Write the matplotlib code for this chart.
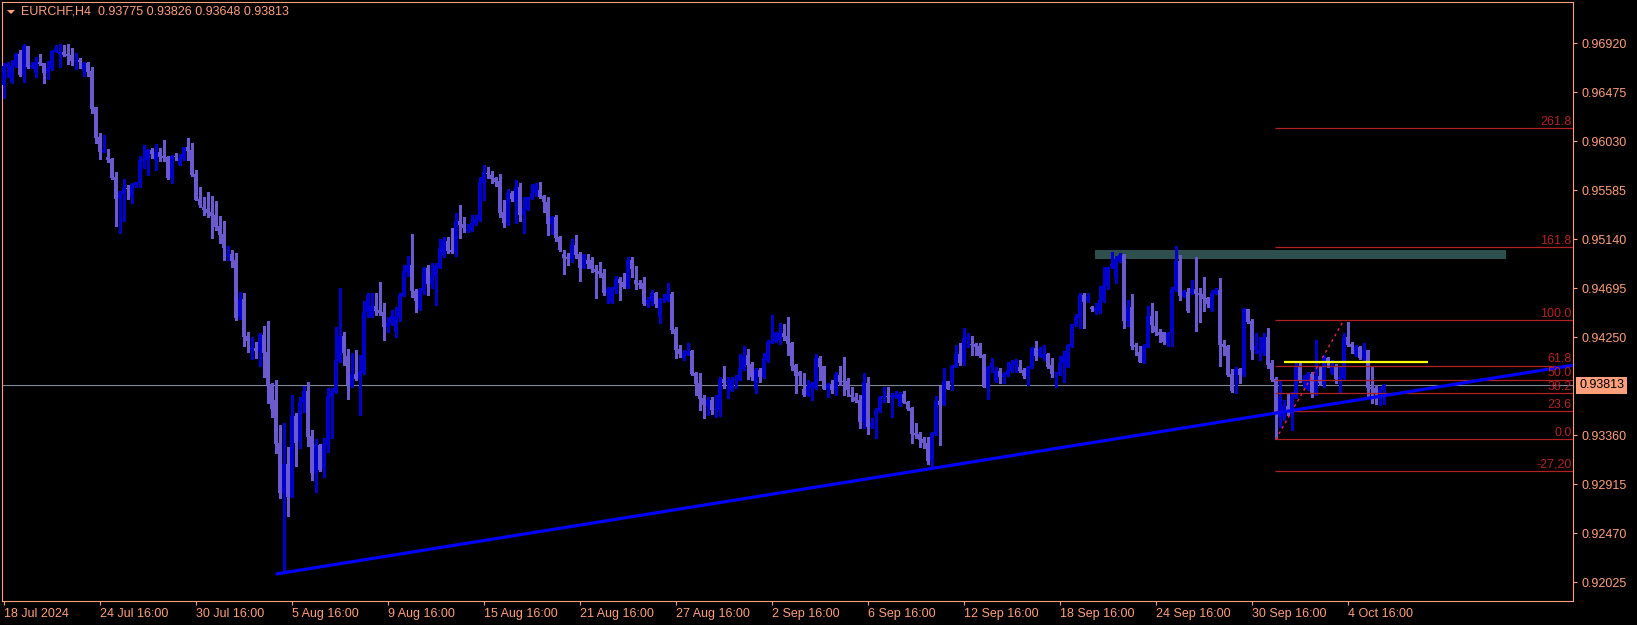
import matplotlib
matplotlib.use("Agg")
import matplotlib.pyplot as plt
from matplotlib.patches import Rectangle, Polygon
from matplotlib import transforms

# ---------------- data (EURCHF, H4) ----------------
symbol_title = "EURCHF,H4  0.93775 0.93826 0.93648 0.93813"

opens = [
.96541,.96707,.96571,.96713,.96822,.96631,.96895,.96707,.96647,.96752,
.96737,.96647,.96686,.96843,.96825,.96837,.96822,.96813,.96762,.96768,
.96668,.96740,.96668,.96338,.96068,.95935,.95890,.95869,.95705,.95505,
.95554,.95605,.95527,.95632,.95654,.95850,.95860,.95950,.95860,.95929,
.95896,.95890,.95699,.95896,.95814,.95869,.95978,.95950,.95732,.95505,
.95436,.95415,.95387,.95360,.95260,.95187,.94991,.95006,.94951,.94437,
.94594,.94261,.94134,.94155,.94125,.94270,.94116,.93825,.93680,.93286,
.92839,.93099,.92802,.93535,.93308,.93656,.93765,.93353,.93014,.93271,
.93053,.93271,.93710,.93756,.94037,.94261,.94080,.93807,.93916,.93871,
.93928,.94482,.94437,.94534,.94497,.94479,.94346,.94382,.94300,.94437,
.94627,.94845,.94903,.94670,.94506,.94673,.94882,.94733,.94806,.94882,
.94997,.95124,.95045,.95027,.95305,.95278,.95215,.95224,.95278,.95315,
.95648,.95741,.95723,.95696,.95669,.95390,.95284,.95557,.95481,.95614,
.95360,.95414,.95511,.95557,.95587,.95533,.95478,.95278,.95339,.95163,
.95003,.94982,.94960,.95084,.95006,.94882,.94951,.94951,.94870,.94851,
.94833,.94649,.94573,.94688,.94779,.94749,.94703,.94951,.94770,.94739,
.94739,.94552,.94582,.94649,.94437,.94588,.94588,.94643,.94325,.94143,
.94064,.94101,.94125,.93922,.93832,.93695,.93629,.93680,.93592,.93589,
.93871,.93847,.93771,.93862,.93862,.93962,.94089,.94007,.93780,.93953,
.93886,.94043,.94201,.94210,.94225,.94292,.94261,.94195,.93998,.93932,
.93780,.93726,.93786,.93786,.94059,.93989,.93780,.93826,.93771,.93907,
.93856,.93853,.93726,.93711,.93680,.93484,.93832,.93438,.93535,.93580,
.93704,.93711,.93704,.93704,.93629,.93735,.93662,.93611,.93384,.93372,
.93323,.93287,.93126,.93372,.93671,.93635,.93853,.93847,.93983,.94098,
.94013,.94237,.94192,.94192,.94171,.94089,.93801,.93977,.93853,.93944,
.93886,.93907,.93947,.93998,.93977,.93953,.93898,.93977,.94150,.94080,
.94074,.94098,.93998,.93923,.93917,.94013,.93983,.94171,.94362,.94428,
.94634,.94579,.94522,.94492,.94492,.94582,.94719,.94885,.94791,.94943,
.94997,.94401,.94522,.94180,.94113,.94029,.94165,.94446,.94355,.94295,
.94295,.94201,.94286,.94679,.94946,.94625,.94664,.94649,.94685,.94655,
.94643,.94604,.94498,.94643,.94679,.94189,.94171,.93917,.93907,.93959,
.93907,.94504,.94398,.94134,.94104,.94104,.94250,.94013,.93868,.93523,
.93529,.93626,.93553,.93711,.93989,.93847,.93780,.93917,.93741,.93898,
.93826,.94059,.93923,.93992,.93868,.93877,.94250,.94189,.94089,.94165,
.94059,.94134,.93795,.93786,.93741,.93775]

highs = [
.96737,.96746,.96768,.96828,.96858,.96913,.96898,.96752,.96798,.96822,
.96743,.96758,.96858,.96904,.96913,.96907,.96913,.96874,.96828,.96783,
.96746,.96749,.96707,.96341,.96102,.96086,.95959,.95881,.95747,.95578,
.95687,.95636,.95648,.95663,.95899,.95996,.95959,.95965,.96005,.95965,
.96041,.95899,.95905,.95926,.95914,.95981,.96059,.96011,.95769,.95611,
.95527,.95566,.95533,.95487,.95354,.95306,.95078,.95042,.95012,.94664,
.94655,.94300,.94249,.94210,.94285,.94352,.94397,.93837,.93862,.93453,
.93468,.93256,.93725,.93565,.93710,.93807,.93846,.93407,.93323,.93280,
.93332,.93792,.93792,.94346,.94700,.94300,.94140,.94104,.94134,.94089,
.94582,.94649,.94649,.94649,.94749,.94558,.94437,.94497,.94527,.94649,
.94906,.94988,.95187,.94688,.94694,.94891,.94906,.94921,.94921,.95142,
.95163,.95163,.95245,.95375,.95451,.95339,.95278,.95357,.95357,.95702,
.95814,.95799,.95760,.95708,.95732,.95496,.95593,.95578,.95678,.95648,
.95526,.95526,.95638,.95648,.95657,.95542,.95520,.95351,.95360,.95169,
.95042,.95012,.95139,.95178,.95021,.95003,.95006,.94982,.94906,.94933,
.94867,.94709,.94709,.94806,.94800,.94830,.94976,.94982,.94897,.94770,
.94794,.94618,.94679,.94664,.94603,.94643,.94739,.94664,.94340,.94179,
.94134,.94195,.94134,.93938,.93922,.93726,.93710,.93710,.93726,.93892,
.93989,.93892,.93886,.93907,.94098,.94171,.94143,.94028,.93968,.93968,
.94104,.94225,.94452,.94295,.94376,.94370,.94437,.94210,.94004,.93947,
.93922,.93862,.93847,.94098,.94080,.93989,.93838,.93862,.93938,.93989,
.94068,.93877,.93795,.93747,.93726,.93922,.93886,.93514,.93611,.93717,
.93801,.93795,.93741,.93762,.93750,.93759,.93674,.93620,.93474,.93393,
.93347,.93347,.93393,.93720,.93807,.93968,.93853,.93998,.94180,.94201,
.94337,.94286,.94261,.94201,.94195,.94098,.93989,.94059,.93983,.93968,
.93938,.94028,.94043,.94050,.94043,.93968,.93989,.94165,.94216,.94165,
.94180,.94110,.94059,.93938,.94080,.94125,.94186,.94371,.94458,.94655,
.94649,.94649,.94534,.94564,.94716,.94885,.94891,.95027,.94988,.95012,
.95003,.94589,.94643,.94201,.94171,.94189,.94534,.94558,.94489,.94322,
.94301,.94295,.94710,.95079,.94997,.94679,.94694,.94770,.94982,.94694,
.94800,.94619,.94679,.94694,.94785,.94225,.94180,.93959,.93977,.93968,
.94513,.94504,.94413,.94286,.94250,.94286,.94331,.94044,.93892,.93862,
.93680,.93747,.93756,.94013,.94013,.93907,.93938,.93938,.94225,.93983,
.94089,.94074,.94044,.94007,.93983,.94286,.94390,.94210,.94180,.94171,
.94201,.94134,.93983,.93817,.93801,.93826]

lows = [
.96419,.96616,.96556,.96701,.96622,.96571,.96692,.96698,.96616,.96725,
.96556,.96595,.96677,.96837,.96707,.96807,.96731,.96722,.96683,.96692,
.96625,.96625,.96289,.96017,.95872,.95932,.95844,.95687,.95260,.95200,
.95306,.95505,.95469,.95617,.95617,.95790,.95723,.95875,.95769,.95850,
.95850,.95687,.95651,.95860,.95814,.95860,.95860,.95717,.95496,.95436,
.95357,.95339,.95154,.95224,.95103,.94951,.94951,.94885,.94406,.94413,
.94170,.94120,.94049,.94058,.93992,.93892,.93656,.93529,.93202,.92793,
.92121,.92627,.92795,.93084,.93241,.93574,.93262,.92953,.92848,.93038,
.92984,.93211,.93332,.93741,.94028,.93998,.93686,.93800,.93862,.93544,
.93916,.94437,.94430,.94452,.94452,.94225,.94300,.94361,.94255,.94397,
.94627,.94806,.94618,.94482,.94500,.94640,.94633,.94694,.94543,.94876,
.94982,.95012,.95012,.94988,.95154,.95209,.95203,.95218,.95270,.95308,
.95496,.95693,.95654,.95623,.95339,.95254,.95269,.95487,.95284,.95308,
.95193,.95405,.95502,.95533,.95511,.95390,.95178,.95184,.95127,.95033,
.94824,.94906,.94936,.94966,.94764,.94876,.94876,.94845,.94609,.94800,
.94633,.94558,.94558,.94649,.94588,.94694,.94694,.94800,.94685,.94694,
.94543,.94521,.94543,.94521,.94382,.94573,.94582,.94291,.94058,.94067,
.94043,.94089,.93910,.93726,.93589,.93520,.93544,.93553,.93529,.93535,
.93786,.93701,.93765,.93786,.93862,.93953,.93871,.93862,.93741,.93847,
.93877,.94028,.94195,.94210,.94189,.94225,.94089,.93953,.93741,.93826,
.93720,.93720,.93680,.93780,.93862,.93780,.93710,.93741,.93726,.93817,
.93726,.93717,.93674,.93659,.93423,.93423,.93372,.93423,.93332,.93574,
.93665,.93665,.93523,.93695,.93626,.93650,.93589,.93293,.93332,.93257,
.93241,.93099,.93069,.93362,.93272,.93635,.93777,.93771,.93977,.93998,
.93998,.94165,.94089,.94089,.94074,.93795,.93689,.93938,.93847,.93832,
.93832,.93901,.93938,.93938,.93938,.93883,.93817,.93968,.94043,.94074,
.94043,.93968,.93892,.93801,.93907,.93847,.93977,.94165,.94352,.94337,
.94337,.94573,.94492,.94461,.94474,.94573,.94685,.94876,.94746,.94937,
.94331,.94352,.94144,.94089,.94023,.94013,.94159,.94301,.94271,.94210,
.94189,.94171,.94171,.94673,.94589,.94619,.94483,.94643,.94310,.94392,
.94492,.94528,.94492,.94643,.93989,.94089,.93898,.93750,.93747,.93832,
.93898,.94377,.94053,.94110,.94044,.94089,.93968,.93853,.93323,.93438,
.93498,.93544,.93408,.93696,.93847,.93801,.93771,.93711,.93726,.93817,
.93801,.93983,.93917,.93832,.93756,.93868,.94171,.94104,.94083,.94050,
.94044,.93711,.93650,.93644,.93635,.93648]

closes = [
.96713,.96731,.96713,.96819,.96631,.96895,.96701,.96722,.96752,.96731,
.96653,.96692,.96849,.96874,.96837,.96813,.96807,.96762,.96768,.96749,
.96740,.96659,.96323,.96062,.95935,.95950,.95862,.95696,.95505,.95557,
.95602,.95596,.95642,.95657,.95860,.95866,.95950,.95914,.95929,.95884,
.95881,.95693,.95896,.95887,.95878,.95974,.95944,.95723,.95496,.95448,
.95405,.95381,.95351,.95254,.95178,.95063,.95006,.94945,.94428,.94594,
.94255,.94219,.94149,.94128,.94273,.94110,.93816,.93598,.93280,.92839,
.93099,.92802,.93535,.93292,.93665,.93765,.93347,.93014,.93271,.93044,
.93280,.93716,.93765,.94043,.94261,.94110,.93816,.93916,.93871,.93943,
.94482,.94633,.94534,.94491,.94473,.94346,.94388,.94443,.94443,.94633,
.94851,.94903,.94670,.94582,.94679,.94882,.94733,.94815,.94897,.95060,
.95133,.95033,.95027,.95305,.95269,.95239,.95233,.95284,.95321,.95660,
.95750,.95732,.95687,.95660,.95381,.95290,.95557,.95502,.95614,.95360,
.95420,.95520,.95563,.95632,.95526,.95481,.95278,.95339,.95154,.95042,
.94973,.94963,.95084,.94997,.94882,.94994,.94915,.94867,.94845,.94824,
.94655,.94688,.94700,.94779,.94745,.94709,.94951,.94873,.94733,.94724,
.94552,.94588,.94649,.94552,.94594,.94597,.94643,.94316,.94134,.94098,
.94104,.94125,.93916,.93826,.93689,.93635,.93680,.93589,.93599,.93871,
.93838,.93853,.93862,.93871,.93968,.94083,.93998,.93886,.93953,.93886,
.94059,.94210,.94216,.94286,.94286,.94255,.94189,.93989,.93898,.93901,
.93726,.93807,.93823,.94065,.93983,.93780,.93826,.93771,.93916,.93847,
.93844,.93771,.93711,.93674,.93484,.93841,.93438,.93468,.93589,.93704,
.93711,.93704,.93723,.93726,.93732,.93656,.93599,.93372,.93362,.93317,
.93287,.93126,.93378,.93671,.93635,.93853,.93777,.93989,.94098,.94013,
.94243,.94255,.94180,.94165,.94080,.93801,.93977,.94013,.93944,.93886,
.93916,.93953,.94007,.94034,.93947,.93898,.93977,.94150,.94080,.94140,
.94098,.93983,.93917,.93938,.94013,.94089,.94180,.94371,.94431,.94634,
.94573,.94625,.94504,.94513,.94589,.94722,.94885,.94915,.94958,.94997,
.94401,.94522,.94174,.94159,.94029,.94171,.94446,.94362,.94295,.94271,
.94204,.94286,.94688,.94946,.94625,.94673,.94492,.94685,.94643,.94634,
.94595,.94552,.94649,.94679,.94180,.94165,.93907,.93762,.93959,.93907,
.94504,.94392,.94134,.94171,.94128,.94256,.93998,.93862,.93575,.93704,
.93626,.93589,.93716,.93989,.93853,.93868,.93917,.93741,.93898,.93832,
.94059,.94019,.93992,.93868,.93886,.94250,.94180,.94159,.94159,.94059,
.94134,.93786,.93777,.93741,.93771,.93813]

# axis labels
x_tick_bars = [0, 24, 48, 72, 96, 120, 144, 168, 192, 216, 240, 264, 288, 312, 336]
x_tick_labels = ["18 Jul 2024", "24 Jul 16:00", "30 Jul 16:00", "5 Aug 16:00",
                 "9 Aug 16:00", "15 Aug 16:00", "21 Aug 16:00", "27 Aug 16:00",
                 "2 Sep 16:00", "6 Sep 16:00", "12 Sep 16:00", "18 Sep 16:00",
                 "24 Sep 16:00", "30 Sep 16:00", "4 Oct 16:00"]
y_ticks = [0.96920, 0.96475, 0.96030, 0.95585, 0.95140, 0.94695, 0.94250,
           0.93360, 0.92915, 0.92470, 0.92025]
bid_price = 0.93813

# drawn objects
fib_levels = ["0.0", "23.6", "38.2", "50.0", "61.8", "100.0", "161.8", "261.8", "-27,20"]
fib_prices = [0.93323, 0.93578, 0.93741, 0.93865, 0.93992, 0.94404, 0.95067, 0.96151, 0.93033]
fib_start_bar = 317.8
fib_anchor_bars = [318, 335]
fib_anchor_prices = [0.93323, 0.94404]
trend_bars = [68, 374]
trend_prices = [0.92100, 0.93889]
yellow_price = 0.94030
yellow_bars = [320, 356]
zone_bars = [272.8, 375.6]
zone_prices = [0.94961, 0.95043]

# ---------------- style ----------------
SALMON = "#FFA07A"
BULL = "#0000CD"
BEAR = "#6A5ACD"
FIBC = "#B22222"
FONT = "Liberation Sans"
plt.rcParams["font.family"] = [FONT, "DejaVu Sans"]

W, H = 1637, 625
fig = plt.figure(figsize=(W / 100, H / 100), dpi=100, facecolor="black")
ax = fig.add_axes([2 / W, (H - 601) / H, 1571 / W, 599 / H], facecolor="black")
XMIN, XMAX = -0.425, 392.3
ax.set_xlim(XMIN, XMAX)
ax.set_ylim(0.91855, 0.97295)

n = len(closes)
xs = list(range(n))
cols = [BULL if closes[i] >= opens[i] else BEAR for i in xs]
px = (0.97295 - 0.91855) / 599.0

# zone rectangle (background)
ax.add_patch(Rectangle((zone_bars[0], zone_prices[0]), zone_bars[1] - zone_bars[0],
                       zone_prices[1] - zone_prices[0], facecolor="#2F4F4F",
                       edgecolor="none", zorder=1))

# bid line
ax.axhline(bid_price, color="#7F8A96", lw=0.8, zorder=1.5)

# candles
wlo = [min(lows[i], opens[i], closes[i]) for i in xs]
whi = [max(highs[i], opens[i], closes[i]) for i in xs]
ax.vlines(xs, wlo, whi, colors=cols, linewidth=0.75, zorder=3, antialiased=False)
bottoms = [min(opens[i], closes[i]) for i in xs]
heights = [max(abs(closes[i] - opens[i]), px) for i in xs]
ax.bar(xs, heights, bottom=bottoms, width=0.78, color=cols, linewidth=0,
       zorder=3, antialiased=False)

# fibonacci
ax.hlines(fib_prices, fib_start_bar, XMAX, colors=FIBC, linewidth=0.9, zorder=4)
for lab, p in zip(fib_levels, fib_prices):
    ax.text(XMAX - 0.3, p + px * 0.3, lab, ha="right", va="bottom", color=FIBC,
            fontsize=9, zorder=6)
ax.plot(fib_anchor_bars, fib_anchor_prices, color="#E0206A", lw=1.0,
        linestyle=(0, (2, 2.5)), zorder=5)

# trend line (ray to the right edge)
slope = (trend_prices[1] - trend_prices[0]) / (trend_bars[1] - trend_bars[0])
ax.plot([trend_bars[0], XMAX],
        [trend_prices[0], trend_prices[0] + slope * (XMAX - trend_bars[0])],
        color="#0000FF", lw=2.3, zorder=5, solid_capstyle="butt")

# yellow horizontal
ax.hlines(yellow_price, yellow_bars[0], yellow_bars[1], colors="#FFFF00",
          linewidth=1.6, zorder=5)

# axes styling
for s in ax.spines.values():
    s.set_color(SALMON)
    s.set_linewidth(0.8)
ax.yaxis.tick_right()
ax.set_yticks(y_ticks)
ax.set_yticklabels([f"{v:.5f}" for v in y_ticks])
ax.set_xticks(x_tick_bars)
ax.set_xticklabels(x_tick_labels)
for lab in ax.get_xticklabels():
    lab.set_ha("left")
ax.tick_params(axis="y", colors=SALMON, length=3, width=0.8, pad=3, labelsize=9)
ax.tick_params(axis="x", colors=SALMON, length=3, width=0.8, pad=2, labelsize=9)

# current price label
trans = transforms.blended_transform_factory(ax.transAxes, ax.transData)
ax.text(1 + 6 / 1571, bid_price, f"{bid_price:.5f}", transform=trans, ha="left",
        va="center", color="black", fontsize=9, clip_on=False, zorder=10,
        bbox=dict(boxstyle="square,pad=0.22", facecolor=SALMON, edgecolor="none"))

# header
fig.text(21 / W, 1 - 12 / H, symbol_title, ha="left", va="center", color=SALMON,
         fontsize=9)
fig.add_artist(Polygon([(7 / W, 1 - 10 / H), (15 / W, 1 - 10 / H), (11 / W, 1 - 14 / H)],
                       closed=True, facecolor=SALMON, edgecolor="none",
                       transform=fig.transFigure))

fig.savefig("out.png", dpi=100, facecolor="black")
